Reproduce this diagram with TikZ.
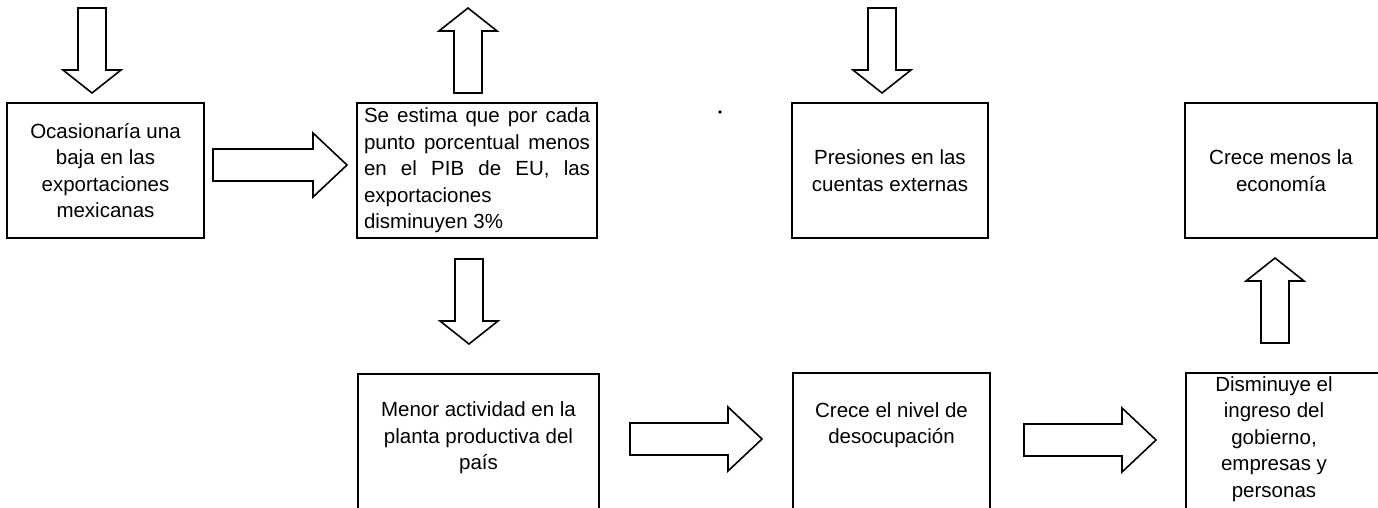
\documentclass[tikz,border=0pt]{standalone}
\usepackage{fontspec}
\setmainfont{Liberation Sans}
\usetikzlibrary{calc}
\tikzset{
  boxnode/.style={draw, line width=1.6pt, inner sep=0pt, outer sep=0pt, align=center,
    font=\fontsize{20.5}{26.5}\selectfont},
  txtnode/.style={inner sep=0pt, align=center, font=\fontsize{20.5}{26.5}\selectfont},
  blk/.style={draw, line width=1.6pt, line join=miter, fill=white},
}
\newcommand{\blkright}[2]{\draw[blk] ($(#1)+(0,-16)$) -- ($(#2)+(-34,-16)$) -- ($(#2)+(-34,-32)$) -- (#2) -- ($(#2)+(-34,32)$) -- ($(#2)+(-34,16)$) -- ($(#1)+(0,16)$) -- cycle;}
\newcommand{\blkdown}[2]{\draw[blk] ($(#1)+(-14,0)$) -- ($(#2)+(-14,-23)$) -- ($(#2)+(-29,-23)$) -- (#2) -- ($(#2)+(29,-23)$) -- ($(#2)+(14,-23)$) -- ($(#1)+(14,0)$) -- cycle;}
\newcommand{\blkup}[2]{\draw[blk] ($(#1)+(-14,0)$) -- ($(#2)+(-14,23)$) -- ($(#2)+(-29,23)$) -- (#2) -- ($(#2)+(29,23)$) -- ($(#2)+(14,23)$) -- ($(#1)+(14,0)$) -- cycle;}
\begin{document}
\begin{tikzpicture}[x=1pt,y=-1pt]
\useasboundingbox (0,0) rectangle (1378,508);
\clip (0,0) rectangle (1378,508);
\fill[white] (0,0) rectangle (1378,508);

% top row boxes
\node[boxnode, minimum width=197pt, minimum height=135pt] (b1) at (105.5,170.5)
  {Ocasionaría una\\baja en las\\exportaciones\\mexicanas};
\node[boxnode, minimum width=240pt, minimum height=135pt] (b2) at (477,170.5)
  {\makebox[226pt][s]{Se estima que por cada}\\
   \makebox[226pt][s]{punto porcentual menos}\\
   \makebox[226pt][s]{en el PIB de EU, las}\\
   \makebox[226pt][l]{exportaciones}\\
   \makebox[226pt][l]{disminuyen 3\%}};
\node[boxnode, minimum width=196pt, minimum height=135pt] (b3) at (890,170.5)
  {Presiones en las\\cuentas externas};
\node[boxnode, minimum width=192pt, minimum height=135pt, anchor=north west] (b4) at (1185,103)
  {Crece menos la\\economía};

% bottom row boxes (open at the bottom edge of the picture)
\node[boxnode, minimum width=241pt, minimum height=170pt, anchor=north west] (b5) at (358,374) {};
\node[txtnode] (t5) at (478.5,438) {Menor actividad en la\\planta productiva del\\país};
\node[boxnode, minimum width=197pt, minimum height=170pt, anchor=north west] (b6) at (793,373) {};
\node[txtnode] (t6) at (891.5,425) {Crece el nivel de\\desocupación};
\node[boxnode, minimum width=210pt, minimum height=170pt, anchor=north west] (b7) at (1186,373) {};
\node[txtnode] (t7) at (1274,439) {Disminuye el\\ingreso del\\gobierno,\\empresas y\\personas};

% block arrows
\coordinate (a1s) at (213,165);  \coordinate (a1e) at (347,165);
\coordinate (a2s) at (630,439);  \coordinate (a2e) at (762,439);
\coordinate (a3s) at (1024,440); \coordinate (a3e) at (1156,440);
\blkright{a1s}{a1e}
\blkright{a2s}{a2e}
\blkright{a3s}{a3e}

\coordinate (d1s) at (92,8);    \coordinate (d1e) at (92,93);
\coordinate (d3s) at (882,8);   \coordinate (d3e) at (882,93);
\coordinate (d5s) at (469,259); \coordinate (d5e) at (469,344);
\blkdown{d1s}{d1e}
\blkdown{d3s}{d3e}
\blkdown{d5s}{d5e}

\coordinate (u2s) at (468,93);   \coordinate (u2e) at (468,8);
\coordinate (u7s) at (1275,343); \coordinate (u7e) at (1275,258);
\blkup{u2s}{u2e}
\blkup{u7s}{u7e}

\fill (720,112) circle (1.8pt);
\end{tikzpicture}
\end{document}
